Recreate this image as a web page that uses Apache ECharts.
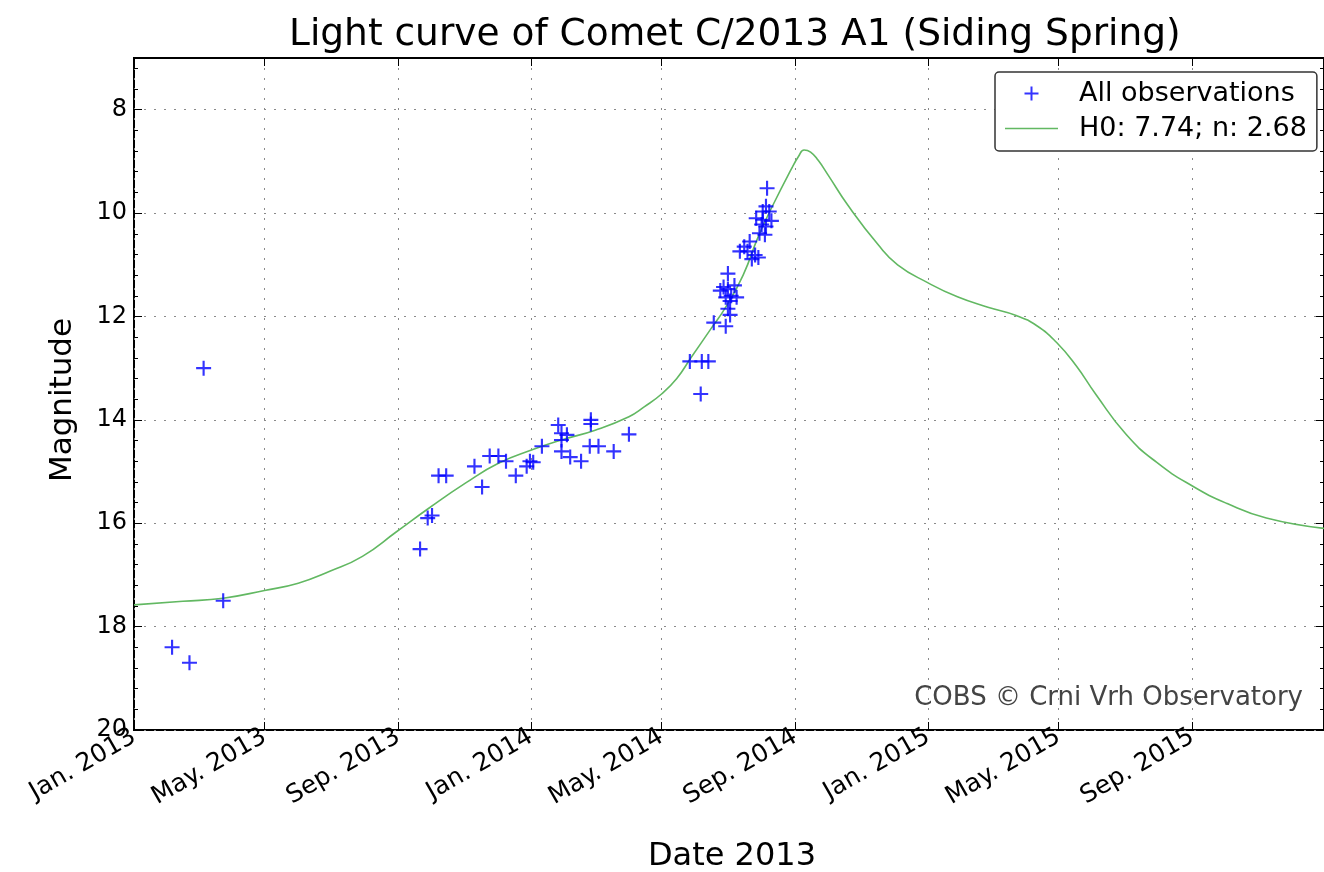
<!DOCTYPE html>
<html>
<head>
<meta charset="utf-8">
<title>Light curve of Comet C/2013 A1 (Siding Spring)</title>
<script src="https://cdn.jsdelivr.net/npm/echarts@6/dist/echarts.min.js"></script>
<style>
  html, body { margin: 0; padding: 0; background: #fff; }
  #chart { width: 1324px; height: 872px; }
</style>
</head>
<body>
<div id="chart"></div>
<script>
// observations (date, magnitude)
const obsDates = [
  '2013-02-05', '2013-02-21', '2013-03-06', '2013-03-24',
  '2013-09-21', '2013-09-28', '2013-10-02', '2013-10-08', '2013-10-15',
  '2013-11-10', '2013-11-17', '2013-11-24', '2013-12-02', '2013-12-09',
  '2013-12-18', '2013-12-28', '2013-12-31', '2014-01-03', '2014-01-11',
  '2014-01-26', '2014-01-29', '2014-01-29', '2014-02-03', '2014-01-29',
  '2014-02-06', '2014-02-16', '2014-02-24', '2014-02-25', '2014-02-25',
  '2014-03-04', '2014-03-18', '2014-04-01',
  '2014-05-27', '2014-06-07', '2014-06-13', '2014-06-06', '2014-06-18',
  '2014-06-29', '2014-07-03', '2014-07-01',
  '2014-07-01', '2014-06-27', '2014-07-01', '2014-07-07', '2014-06-24',
  '2014-07-04', '2014-06-29', '2014-07-09', '2014-07-03',
  '2014-07-21', '2014-07-16', '2014-07-12', '2014-07-19', '2014-07-26',
  '2014-07-23', '2014-07-29', '2014-07-27', '2014-08-01', '2014-07-30',
  '2014-08-04', '2014-08-02', '2014-08-02', '2014-08-05', '2014-08-05',
  '2014-08-06', '2014-08-08', '2014-08-10'
];
const obsMags = [
  18.4, 18.7, 13.0, 17.5,
  16.5, 15.9, 15.85, 15.08, 15.08,
  14.9, 15.3, 14.7, 14.7, 14.8,
  15.08, 14.9, 14.8, 14.82, 14.51,
  14.1, 14.26, 14.39, 14.29, 14.61,
  14.72, 14.8, 14.51, 14.08, 14.0,
  14.51, 14.61, 14.28,
  12.87, 12.87, 12.87, 13.5, 12.12,
  12.19, 11.97, 11.85,
  11.17, 11.43, 11.47, 11.4, 11.5,
  11.6, 11.63, 11.63, 11.7,
  10.55, 10.65, 10.74, 10.74, 10.81,
  10.89, 10.86, 10.1, 10.22, 10.39,
  10.42, 9.97, 10.13, 9.87, 10.26,
  9.52, 9.97, 10.15
];

// fitted light curve, sampled off the plot
const curveDates = [
  '2013-01-01', '2013-02-15', '2013-03-24', '2013-05-01', '2013-06-01',
  '2013-06-30', '2013-07-30', '2013-08-30', '2013-09-29', '2013-11-02',
  '2013-12-02', '2014-01-02', '2014-01-29', '2014-03-01', '2014-04-01',
  '2014-04-15', '2014-05-01', '2014-05-15', '2014-05-28', '2014-06-15',
  '2014-06-29', '2014-07-15', '2014-07-29', '2014-08-12', '2014-08-28',
  '2014-09-04', '2014-09-09', '2014-09-15', '2014-09-22', '2014-10-01',
  '2014-10-19', '2014-11-16', '2014-12-04', '2015-01-01', '2015-01-28',
  '2015-02-25', '2015-03-23', '2015-04-11', '2015-04-29', '2015-05-17',
  '2015-06-04', '2015-07-02', '2015-07-30', '2015-09-01', '2015-10-03',
  '2015-11-08', '2015-12-31'
];
const curveMags = [
  17.58, 17.51, 17.45, 17.3, 17.16,
  16.93, 16.64, 16.17, 15.71, 15.22,
  14.84, 14.58, 14.39, 14.2, 13.94,
  13.75, 13.5, 13.2, 12.8, 12.25,
  11.82, 11.2, 10.45, 9.82, 9.16,
  8.9, 8.78, 8.82, 8.98, 9.26,
  9.84, 10.61, 11.0, 11.35, 11.62,
  11.82, 11.98, 12.18, 12.5, 12.95,
  13.5, 14.28, 14.82, 15.28, 15.62,
  15.9, 16.1
];

const xTickDates = [
  '2013-01-01', '2013-05-01', '2013-09-01', '2014-01-01', '2014-05-01',
  '2014-09-01', '2015-01-01', '2015-05-01', '2015-09-01'
];
const yTicks = [8, 10, 12, 14, 16, 18, 20];
const xMin = '2013-01-01';
const xMax = '2015-12-31';
const yMin = 7;
const yMax = 20;

const FONT = '"DejaVu Sans", sans-serif';
const MONTHS = ['Jan.', 'Feb.', 'Mar.', 'Apr.', 'May.', 'Jun.',
  'Jul.', 'Aug.', 'Sep.', 'Oct.', 'Nov.', 'Dec.'];
const toTime = d => new Date(d + 'T00:00:00').getTime();
const xTicks = xTickDates.map(toTime);

// minor ticks: 5 steps between majors
const yMinorTicks = [];
for (let i = 0; i < yTicks.length; i++) {
  const base = yTicks[i] - 2;
  for (let k = 1; k < 5; k++) {
    const v = Math.round((base + k * 0.4) * 10) / 10;
    if (v > yMin && v < yMax) yMinorTicks.push(v);
  }
}

const GREEN = '#62b862';
const plusIcon = 'path://M-1,-7 L1,-7 L1,-1 L7,-1 L7,1 L1,1 L1,7 L-1,7 L-1,1 L-7,1 L-7,-1 L-1,-1 Z';
const lineIcon = 'path://M0,0 L53,0 L53,1.6 L0,1.6 Z';
const gridLine = { show: true, lineStyle: { color: '#8a8a8a', width: 1, type: [2, 8] } };

const chart = echarts.init(document.getElementById('chart'));

const tickOnly = (extra) => Object.assign({
  axisLine: { show: false },
  axisLabel: { show: false },
  splitLine: { show: false }
}, extra);

// the date axis is a plain value axis in milliseconds so the ticks can sit on month starts
chart.setOption({
  animation: false,
  backgroundColor: '#fff',
  title: {
    text: 'Light curve of Comet C/2013 A1 (Siding Spring)',
    left: 289,
    top: 16,
    padding: 0,
    textStyle: { fontSize: 37.5, fontWeight: 'normal', fontFamily: FONT, color: '#000' }
  },
  legend: {
    orient: 'vertical',
    left: 995,
    top: 72,
    padding: [8, 10, 9, 10],
    itemGap: 8,
    itemWidth: 53,
    itemHeight: 14,
    symbolKeepAspect: true,
    borderColor: '#333',
    borderWidth: 1.5,
    borderRadius: 4,
    backgroundColor: '#fff',
    textStyle: { fontSize: 27, fontFamily: FONT, color: '#000', padding: [0, 0, 0, 16] },
    data: [
      { name: 'All observations' },
      { name: 'H0: 7.74; n: 2.68', icon: lineIcon, itemStyle: { color: GREEN } }
    ]
  },
  grid: {
    left: 134, right: 0, top: 58, bottom: 142,
    show: true, borderColor: '#000', borderWidth: 2,
    containLabel: false, outerBoundsMode: 'none'
  },
  xAxis: [
    {
      type: 'value', position: 'bottom', min: toTime(xMin), max: toTime(xMax),
      axisLine: { show: false },
      axisTick: { inside: true, length: 8, customValues: xTicks, lineStyle: { color: '#000', width: 1 } },
      axisLabel: {
        customValues: xTicks, rotate: 30, margin: 5,
        fontSize: 25, fontFamily: FONT, color: '#000',
        formatter: v => { const d = new Date(v); return MONTHS[d.getMonth()] + ' ' + d.getFullYear(); }
      },
      splitLine: gridLine,
      name: 'Date 2013', nameLocation: 'middle', nameGap: 111,
      nameTextStyle: { fontSize: 32, fontFamily: FONT, color: '#000', padding: [0, 0, 0, 6] }
    },
    tickOnly({
      type: 'value', position: 'top', min: toTime(xMin), max: toTime(xMax),
      axisTick: { inside: true, length: 8, customValues: xTicks, lineStyle: { color: '#000', width: 1 } }
    })
  ],
  yAxis: [
    {
      type: 'value', position: 'left', inverse: true, min: yMin, max: yMax,
      axisLine: { show: false },
      axisTick: { inside: true, length: 8, customValues: yTicks, lineStyle: { color: '#000', width: 1 } },
      axisLabel: { customValues: yTicks, margin: 7, fontSize: 24, fontFamily: FONT, color: '#000' },
      splitLine: gridLine,
      name: 'Magnitude', nameLocation: 'middle', nameGap: 56,
      nameTextStyle: { fontSize: 31, fontFamily: FONT, color: '#000', padding: [0, 12, 0, 0] }
    },
    tickOnly({
      type: 'value', position: 'right', inverse: true, min: yMin, max: yMax,
      axisTick: { inside: true, length: 8, customValues: yTicks, lineStyle: { color: '#000', width: 1 } }
    }),
    tickOnly({
      type: 'value', position: 'left', inverse: true, min: yMin, max: yMax,
      axisTick: { inside: true, length: 4, customValues: yMinorTicks, lineStyle: { color: '#000', width: 1 } }
    }),
    tickOnly({
      type: 'value', position: 'right', inverse: true, min: yMin, max: yMax,
      axisTick: { inside: true, length: 4, customValues: yMinorTicks, lineStyle: { color: '#000', width: 1 } }
    })
  ],
  graphic: [{
    type: 'text',
    right: 21,
    top: 685,
    style: { text: 'COBS \u00a9 Crni Vrh Observatory', font: '26px "DejaVu Sans"', fill: '#444' }
  }],
  series: [
    {
      name: 'H0: 7.74; n: 2.68',
      type: 'line',
      data: curveDates.map((d, i) => [toTime(d), curveMags[i]]),
      smooth: 0.5,
      symbol: 'none',
      showSymbol: false,
      lineStyle: { color: GREEN, width: 1.6 },
      itemStyle: { color: GREEN },
      z: 2
    },
    {
      name: 'All observations',
      type: 'scatter',
      data: obsDates.map((d, i) => [toTime(d), obsMags[i]]),
      symbol: plusIcon,
      symbolSize: 15,
      symbolKeepAspect: true,
      itemStyle: { color: '#0000ff' },
      z: 3
    }
  ]
});
</script>
</body>
</html>
